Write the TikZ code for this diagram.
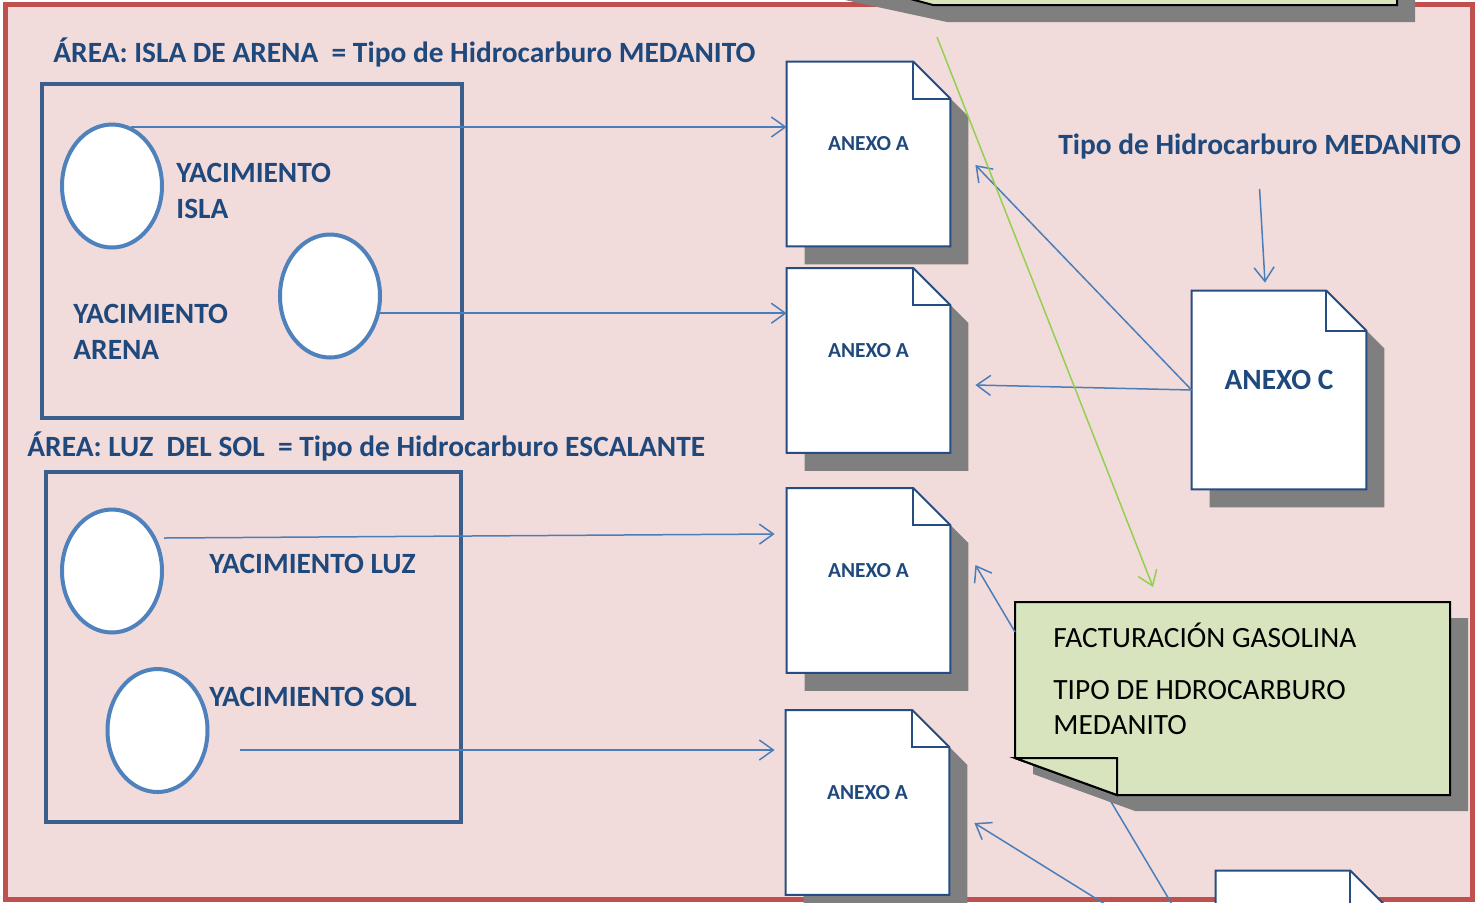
\documentclass[tikz,border=0pt]{standalone}
\usepackage{fontspec}
\setmainfont{Carlito}
\usepackage{tikz}
\usetikzlibrary{positioning, arrows.meta, shapes.geometric, shadows}
\definecolor{framefill}{HTML}{F2DCDB}
\definecolor{framered}{HTML}{C0504D}
\definecolor{boxblue}{HTML}{3A5F8C}
\definecolor{ovalblue}{HTML}{4F81BD}
\definecolor{docblue}{HTML}{254D82}
\definecolor{txtblue}{HTML}{1F497D}
\definecolor{arrowblue}{HTML}{4A7EBB}
\definecolor{notegreen}{HTML}{D7E4BD}
\definecolor{linegreen}{HTML}{92D050}
\definecolor{shadowgray}{HTML}{7F7F7F}
\tikzset{
  area/.style={font=\bfseries\fontsize{14.7}{18}\selectfont, text=txtblue, inner sep=0pt, anchor=base west},
  yac/.style={area, align=left, anchor=west},
  areabox/.style={draw=boxblue, line width=2pt},
  oval/.style={ellipse, draw=ovalblue, line width=2pt, fill=white, minimum width=50pt, minimum height=61.5pt, inner sep=0pt},
  docA/.style={minimum width=81.5pt, minimum height=92pt, inner sep=0pt},
  docC/.style={minimum width=87pt, minimum height=99pt, inner sep=0pt},
  docpaper/.style={fill=white, draw=docblue, line width=1pt,
    drop shadow={shadow xshift=9pt, shadow yshift=-9pt, fill=shadowgray, opacity=1}},
  docfold/.style={draw=docblue, line width=1pt},
  doctext/.style={text=txtblue, inner sep=0pt},
  notepaper/.style={fill=notegreen, draw=black, line width=1pt},
  notetext/.style={font=\fontsize{14.7}{17.5}\selectfont, align=left, inner sep=0pt, anchor=base west},
  link/.style={draw=arrowblue, line width=0.75pt, -{Straight Barb[length=7pt,width=10pt]}},
  greenlink/.style={draw=linegreen, line width=0.75pt, -{Straight Barb[length=7pt,width=10pt]}}
}
\begin{document}
\begin{tikzpicture}[x=0.5pt,y=-0.5pt]
        \useasboundingbox (0,0) rectangle (1478,902);
        \clip (0,0) rectangle (1478,902);
        % Frame
        \draw[framered, line width=2.5pt, fill=framefill] (5,4) rectangle (1472,899);
        % Note cut off at the top
        \fill[shadowgray] (845,0) -- (947,22) -- (1415,22) -- (1415,0) -- cycle;
        \filldraw[notepaper] (907,-2) -- (933,5) -- (1397,5) -- (1397,-2);
        % Areas
        \node[area] (islaarea) at (53,62) {ÁREA: ISLA DE ARENA\ \ = Tipo de Hidrocarburo MEDANITO};
        \draw[areabox] (42,84) rectangle (462,418);
        \node[area] (solarea) at (27,456) {ÁREA: LUZ\ \ DEL SOL\ \ = Tipo de Hidrocarburo ESCALANTE};
        \draw[areabox] (46,472) rectangle (461,822);
        % Yacimientos
        \node[oval] (isla) at (112,186) {};
        \node[oval] (arena) at (330,296) {};
        \node[oval] (luz) at (112,571) {};
        \node[oval] (sol) at (157.5,730.5) {};
        \node[yac] (islatxt) at (176,191) {YACIMIENTO\\ISLA};
        \node[yac] (arenatxt) at (73,331.5) {YACIMIENTO\\ARENA};
        \node[area] (luztxt) at (209,573) {YACIMIENTO LUZ};
        \node[area] (soltxt) at (209,706) {YACIMIENTO SOL};
        % Documents
        \node[docA] (dA1) at (868.5,154) {};
        \node[docA] (dA2) at (868.5,360.5) {};
        \node[docA] (dA3) at (868.5,580.5) {};
        \node[docA] (dA4) at (867.5,802.5) {};
        \node[docC] (dC) at (1279,390) {};
        \node[docC] (dE) at (1303,970) {};
        \foreach \d/\f/\t/\z in {dA1/18.5pt/ANEXO A/10.7, dA2/18.5pt/ANEXO A/10.7, dA3/18.5pt/ANEXO A/10.7,
                                 dA4/18.5pt/ANEXO A/10.7, dC/20pt/ANEXO C/14.7, dE/20pt//14.7} {
          \filldraw[docpaper] (\d.south west) -- (\d.north west) -- ([xshift=-\f]\d.north east)
            -- ([yshift=-\f]\d.north east) -- (\d.south east) -- cycle;
          \draw[docfold] ([xshift=-\f]\d.north east) |- ([yshift=-\f]\d.north east);
          \node[doctext, font=\bfseries\fontsize{\z}{\z}\selectfont] (t\d) at ([yshift=5pt]\d.center) {\t};
        }
        \node[area] (hdr) at (1058,154) {Tipo de Hidrocarburo MEDANITO};
        % Arrows to the documents
        \draw[link] (isla.72) -- (isla.72 -| dA1.west);
        \draw[link] (arena.-19) -- (arena.-19 -| dA2.west);
        \draw[link] ([yshift=16.5pt]luz.east) -- ([shift={(-6pt,23.25pt)}]dA3.west);
        \coordinate (solstart) at (240,750);
        \draw[link] (solstart) -- ([shift={(-5.5pt,26.25pt)}]dA4.west);
        \draw[link] (dC.west) -- ([shift={(12.5pt,-5.5pt)}]dA1.east);
        \draw[link] (dC.west) -- ([shift={(12.5pt,-12.25pt)}]dA2.east);
        \draw[link] ([yshift=-15pt]hdr.south) -- ([shift={(-7pt,4pt)}]dC.north);
        \coordinate (lowstart) at (1108,906);
        \draw[link] (lowstart) -- ([shift={(12.5pt,-10.25pt)}]dA4.east);
        % Green note
        \coordinate (noteNW) at (1015,602);
        \coordinate (tailtop) at (1107,795);
        \coordinate (tailend) at (1173,906);
        \draw[arrowblue, line width=0.75pt] (tailtop) -- (tailend);
        \filldraw[notepaper, drop shadow={shadow xshift=9pt, shadow yshift=-8pt, fill=shadowgray, opacity=1}]
          (noteNW) -- (1450,602) -- (1450,795) -- (1117,795) -- (1015,758) -- cycle;
        \filldraw[notepaper] (1015,758) -- (1117,758) -- (1117,795) -- cycle;
        \node[notetext] (note) at (1053,734) {FACTURACIÓN GASOLINA\\[8.5pt]TIPO DE HDROCARBURO\\MEDANITO};
        \draw[link] ([yshift=-15pt]noteNW) -- ([shift={(12.5pt,7.75pt)}]dA3.east);
        \coordinate (greenstart) at (937,37);
        \draw[greenlink] (greenstart) -- ([shift={(69pt,7.5pt)}]noteNW);
\end{tikzpicture}
\end{document}
